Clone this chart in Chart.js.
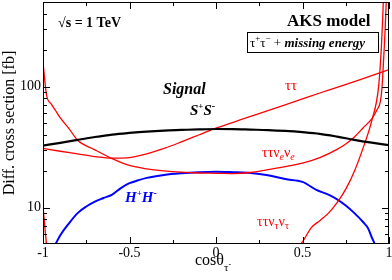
<!DOCTYPE html>
<html>
<head>
<meta charset="utf-8">
<script src="https://cdn.jsdelivr.net/npm/chart.js@4"></script>
<style>
  html, body { margin: 0; padding: 0; background: #fff; }
  #wrap { width: 392px; height: 280px; }
</style>
</head>
<body>
<div id="wrap"><canvas id="chart" width="392" height="280"></canvas></div>
<script>
/* Differential cross section vs cos(theta_tau), AKS model at sqrt(s) = 1 TeV.
   Log y axis, frame with inward ticks drawn by a small plugin. */

// ---- data ----
var xSignal = [-1, -0.9, -0.8, -0.7, -0.6, -0.5, -0.4, -0.3, -0.2, -0.1, 0, 0.1, 0.2, 0.3, 0.4, 0.5, 0.6, 0.7, 0.8, 0.9, 1];
var ySignal = [32.5, 34.3, 36.3, 38.3, 40.1, 41.4, 42.5, 43.3, 43.8, 44.3, 44.6, 44.5, 44.1, 43.7, 43.0, 42.0, 40.7, 38.6, 36.3, 34.4, 32.8];

var xTauTau = [-1, -0.9, -0.8, -0.7, -0.6, -0.5, -0.4, -0.3, -0.2, -0.1, 0, 0.1, 0.2, 0.3, 0.4, 0.5, 0.6, 0.7, 0.8, 0.9, 1];
var yTauTau = [30.8, 29.2, 27.8, 26.4, 25.6, 25.9, 27.8, 30.8, 34.9, 39.8, 45.4, 50.7, 56.7, 63.2, 70.6, 79, 88.5, 98.5, 110, 123, 138];

var xTauTauNuE = [-1, -0.98, -0.95, -0.92, -0.9, -0.85, -0.8, -0.7, -0.6, -0.5, -0.4, -0.3, -0.2, -0.1, 0, 0.1, 0.2, 0.3, 0.4, 0.5, 0.6, 0.7, 0.75, 0.8, 0.85, 0.9, 0.93, 0.95, 0.96, 0.97, 0.978, 0.985];
var yTauTauNuE = [158, 86, 71, 61, 55, 45, 36, 30, 25.4, 22.3, 20.9, 20.1, 19.6, 19.3, 19.2, 19.1, 19.5, 20.6, 21.8, 23.3, 25.9, 30.3, 33.5, 38.3, 45.5, 54, 64, 75, 100, 180, 300, 550];

var xTauTauNuTau = [-1, -0.98, -0.975, 0, 0.47, 0.5, 0.55, 0.6, 0.65, 0.7, 0.75, 0.8, 0.85, 0.9, 0.94, 0.955, 0.963, 0.968];
var yTauTauNuTau = [10.2, 5.0, 4.4, null, 4.6, 5.2, 6.8, 7.8, 9.0, 11.0, 14.2, 20.0, 31, 52, 100, 200, 350, 550];

var xHH = [-0.94, -0.9, -0.85, -0.8, -0.75, -0.7, -0.65, -0.6, -0.55, -0.5, -0.45, -0.4, -0.3, -0.2, -0.1, 0, 0.1, 0.2, 0.3, 0.4, 0.5, 0.58, 0.65, 0.7, 0.75, 0.8, 0.85, 0.88, 0.9, 0.92, 0.93];
var yHH = [4.6, 5.9, 7.4, 9.0, 10.2, 11.2, 12.0, 12.8, 14.5, 15.9, 16.8, 17.6, 18.6, 19.2, 19.6, 19.8, 19.6, 19.3, 18.5, 17.2, 16.3, 14.0, 12.8, 11.7, 10.4, 9.0, 7.6, 6.7, 5.7, 4.9, 4.5];

var xMajorTicks = [-1, -0.5, 0, 0.5, 1];
var xTickLabels = ["-1", "-0.5", "0", "0.5", "1"];
var xMinorTicks = [-0.75, -0.25, 0.25, 0.75];
var yMajorTicks = [10, 100];
var yTickLabels = ["10", "100"];
var yMinorTicks = [6, 7, 8, 9, 20, 30, 40, 50, 60, 70, 80, 90, 200, 300, 400];

var SERIF = '"Liberation Serif", "Times New Roman", serif';
var RED = "#ff0000";
var BLUE = "#0000ff";

function points(xs, ys) {
  return xs.map(function (x, i) { return { x: x, y: ys[i] }; });
}

// draws consecutive text runs (for sub/superscripts), returns end x
function drawRuns(ctx, x, y, runs) {
  runs.forEach(function (r) {
    ctx.font = r.font;
    ctx.fillText(r.text, x, y + (r.dy || 0));
    x += ctx.measureText(r.text).width + (r.gap || 0);
  });
  return x;
}

// frame around the plot area with inward major/minor ticks on all sides
var framePlugin = {
  id: "frame",
  afterDraw: function (chart) {
    var ctx = chart.ctx;
    var a = chart.chartArea;
    var xs = chart.scales.x, ys = chart.scales.y;
    ctx.save();
    ctx.strokeStyle = "#000";
    ctx.lineWidth = 1;
    ctx.strokeRect(a.left + 0.5, a.top + 0.5, a.right - a.left - 1, a.bottom - a.top - 1);
    ctx.beginPath();
    function xTick(v, len) {
      var px = Math.round(xs.getPixelForValue(v)) + 0.5;
      ctx.moveTo(px, a.bottom); ctx.lineTo(px, a.bottom - len);
      ctx.moveTo(px, a.top); ctx.lineTo(px, a.top + len);
    }
    function yTick(v, len) {
      var py = Math.round(ys.getPixelForValue(v)) + 0.5;
      ctx.moveTo(a.left, py); ctx.lineTo(a.left + len, py);
      ctx.moveTo(a.right, py); ctx.lineTo(a.right - len, py);
    }
    xMajorTicks.forEach(function (v) { xTick(v, 7); });
    xMinorTicks.forEach(function (v) { xTick(v, 4); });
    yMajorTicks.forEach(function (v) { yTick(v, 7); });
    yMinorTicks.forEach(function (v) { yTick(v, 4); });
    ctx.stroke();
    ctx.restore();
  }
};

// annotation texts and the x axis title (needs sub/superscripts)
var labelsPlugin = {
  id: "labels",
  afterDraw: function (chart) {
    var ctx = chart.ctx;
    ctx.save();
    ctx.textBaseline = "alphabetic";
    ctx.textAlign = "left";

    ctx.fillStyle = "#000";
    drawRuns(ctx, 58, 27, [{ text: "\u221As = 1 TeV", font: "bold 14px " + SERIF }]);
    drawRuns(ctx, 287, 26, [{ text: "AKS model", font: "bold 17px " + SERIF }]);

    ctx.strokeStyle = "#000";
    ctx.lineWidth = 1;
    ctx.strokeRect(247.5, 32.5, 131, 20);
    drawRuns(ctx, 250, 47, [
      { text: "\u03C4", font: "13px " + SERIF },
      { text: "+", font: "9px " + SERIF, dy: -6 },
      { text: "\u03C4", font: "13px " + SERIF },
      { text: "\u2212", font: "9px " + SERIF, dy: -6 },
      { text: " + ", font: "13px " + SERIF },
      { text: "missing energy", font: "italic bold 13px " + SERIF }
    ]);

    drawRuns(ctx, 163, 94, [{ text: "Signal", font: "italic bold 16px " + SERIF }]);
    drawRuns(ctx, 190, 115, [
      { text: "S", font: "italic bold 15px " + SERIF },
      { text: "+", font: "bold 9px " + SERIF, dy: -6 },
      { text: "S", font: "italic bold 15px " + SERIF },
      { text: "-", font: "bold 10px " + SERIF, dy: -6 }
    ]);

    ctx.fillStyle = RED;
    drawRuns(ctx, 285, 90, [{ text: "\u03C4\u03C4", font: "15px " + SERIF }]);
    drawRuns(ctx, 262, 157, [
      { text: "\u03C4\u03C4\u03BD", font: "14px " + SERIF },
      { text: "e", font: "italic 10px " + SERIF, dy: 3 },
      { text: "\u03BD", font: "14px " + SERIF },
      { text: "e", font: "italic 10px " + SERIF, dy: 3 }
    ]);
    drawRuns(ctx, 257, 226, [
      { text: "\u03C4\u03C4\u03BD", font: "14px " + SERIF },
      { text: "\u03C4", font: "10px " + SERIF, dy: 3 },
      { text: "\u03BD", font: "14px " + SERIF },
      { text: "\u03C4", font: "10px " + SERIF, dy: 3 }
    ]);

    ctx.fillStyle = BLUE;
    drawRuns(ctx, 125, 202, [
      { text: "H", font: "italic bold 15px " + SERIF },
      { text: "+", font: "bold 9px " + SERIF, dy: -6 },
      { text: "H", font: "italic bold 15px " + SERIF },
      { text: "-", font: "bold 10px " + SERIF, dy: -6 }
    ]);

    // x axis title: cos(theta) with tau-minus subscript
    ctx.fillStyle = "#000";
    var end = drawRuns(ctx, 195, 265, [
      { text: "cos\u03B8", font: "16px " + SERIF },
      { text: "\u03C4", font: "11px " + SERIF, dy: 6 }
    ]);
    drawRuns(ctx, end, 267, [{ text: "-", font: "8px " + SERIF }]);
    ctx.restore();
  }
};

new Chart(document.getElementById("chart"), {
  type: "line",
  data: {
    datasets: [
      { label: "Signal", data: points(xSignal, ySignal), borderColor: "#000", borderWidth: 2.2 },
      { label: "tautau", data: points(xTauTau, yTauTau), borderColor: RED, borderWidth: 1.3 },
      { label: "tautau nue nue", data: points(xTauTauNuE, yTauTauNuE), borderColor: RED, borderWidth: 1.3 },
      { label: "tautau nutau nutau", data: points(xTauTauNuTau, yTauTauNuTau), borderColor: RED, borderWidth: 1.3, spanGaps: false },
      { label: "H+H-", data: points(xHH, yHH), borderColor: BLUE, borderWidth: 2 }
    ]
  },
  options: {
    responsive: false,
    animation: false,
    layout: { padding: { top: 2, right: 3, left: 0, bottom: 0 } },
    elements: {
      point: { radius: 0, hoverRadius: 0 },
      line: { cubicInterpolationMode: "monotone", fill: false }
    },
    scales: {
      x: {
        type: "linear",
        min: -1,
        max: 1,
        grid: { display: false, drawTicks: false },
        border: { display: false },
        afterBuildTicks: function (s) { s.ticks = xMajorTicks.map(function (v) { return { value: v }; }); },
        afterFit: function (s) { s.height = 36; s.paddingLeft = 0; s.paddingRight = 0; },
        ticks: {
          autoSkip: false,
          maxRotation: 0,
          padding: 1,
          color: "#000",
          font: { family: SERIF, size: 14 },
          callback: function (v, i) { return xTickLabels[i]; }
        }
      },
      y: {
        type: "logarithmic",
        min: 5,
        max: 500,
        grid: { display: false, drawTicks: false },
        border: { display: false },
        afterBuildTicks: function (s) { s.ticks = yMajorTicks.map(function (v) { return { value: v }; }); },
        afterFit: function (s) { s.width = 43; s.paddingTop = 0; s.paddingBottom = 0; },
        ticks: {
          autoSkip: false,
          padding: 2,
          color: "#000",
          font: { family: SERIF, size: 14 },
          callback: function (v, i) { return yTickLabels[i]; }
        },
        title: {
          display: true,
          text: "Diff. cross section [fb]",
          color: "#000",
          font: { family: SERIF, size: 16 },
          padding: { top: 0, bottom: 0 }
        }
      }
    },
    plugins: {
      legend: { display: false },
      tooltip: { enabled: false }
    }
  },
  plugins: [framePlugin, labelsPlugin]
});
</script>
</body>
</html>
